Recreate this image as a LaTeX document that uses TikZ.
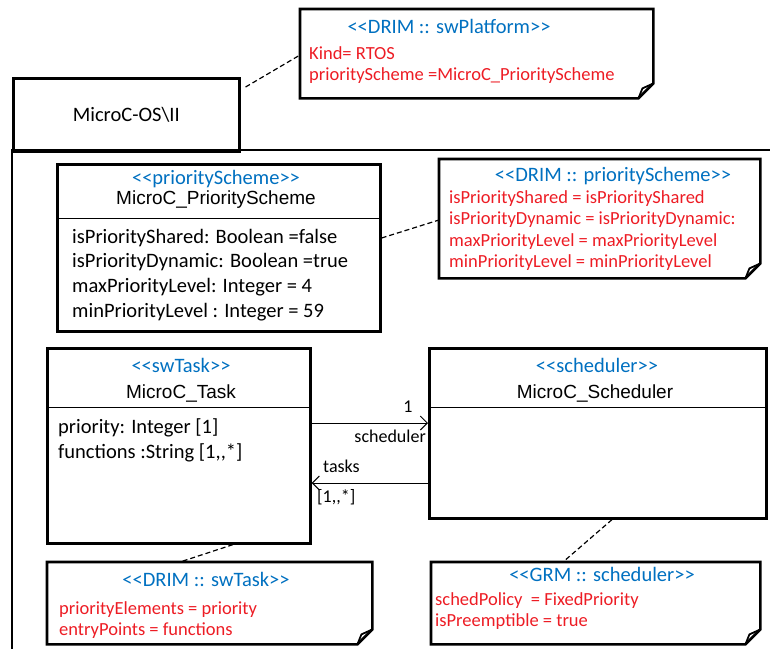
\documentclass[tikz,border=0pt]{standalone}
\usepackage{fontspec}
\newfontfamily\calfont{Carlito}
\newfontfamily\arialfont{Liberation Sans}
\usetikzlibrary{arrows.meta}
\definecolor{stereoblue}{RGB}{0,112,192}
\definecolor{tagred}{RGB}{237,28,36}
\tikzstyle{every node}=[inner sep=0pt,font=\calfont\fontsize{20.5}{24}\selectfont]
\tikzstyle{classbox}=[draw=black,line width=2.6pt,anchor=north west]
\tikzstyle{notebox}=[anchor=north west]
\tikzstyle{stereo}=[anchor=base,text=stereoblue]
\tikzstyle{cname}=[anchor=base,font=\arialfont\fontsize{19}{23}\selectfont]
\tikzstyle{attr}=[anchor=base west]
\tikzstyle{tag}=[anchor=base west,text=tagred,font=\calfont\fontsize{18.5}{22}\selectfont]
\tikzstyle{role}=[font=\calfont\fontsize{18}{22}\selectfont]
\tikzstyle{link}=[line width=1.2pt,dash pattern=on 5pt off 3pt]
\tikzstyle{assoc}=[line width=1pt,-{Straight Barb[length=7pt,width=14pt,line width=1pt]}]

\newcommand\notefold[1]{%
  \draw[line width=2.6pt,line join=miter] (#1.north west) -- (#1.north east)
    -- ([yshift=15pt]#1.south east) -- ([xshift=-15pt]#1.south east)
    -- (#1.south west) -- cycle;
  \draw[line width=1.8pt,line join=round] ([yshift=15pt]#1.south east)
    -- ([xshift=-11pt,yshift=10pt]#1.south east) -- ([xshift=-15pt]#1.south east);}

\begin{document}
\begin{tikzpicture}[x=1pt,y=-1pt]
  \useasboundingbox (0,0) rectangle (770,648);

  \node[classbox,minimum width=226,minimum height=73,text height=13pt,text depth=0pt]
    (pkg) at (12,77) {MicroC-OS\textbackslash II};
  \draw[line width=2.6pt] (12,652) |- (772,150);

  \node[notebox,minimum width=353,minimum height=89] (plat) at (300,9) {};
  \notefold{plat}
  \node[stereo] (plat-st) at (449,33) {<<DRIM :: swPlatform>>};
  \node[tag] (plat-1) at (309,59) {Kind= RTOS};
  \node[tag] (plat-2) at (309,80) {priorityScheme =MicroC\_PriorityScheme};

  \node[classbox,minimum width=323,minimum height=167] (ps) at (56,163) {};
  \draw[line width=1pt] ([yshift=-55pt]ps.north west) -- ([yshift=-55pt]ps.north east);
  \node[stereo] (ps-st) at (216,184) {<<priorityScheme>>};
  \node[cname] (ps-nm) at (216,204) {MicroC\_PriorityScheme};
  \foreach \t [count=\i] in {isPriorityShared: Boolean =false,
      isPriorityDynamic: Boolean =true,maxPriorityLevel: Integer = 4,
      minPriorityLevel : Integer = 59}
    \node[attr] (ps-a\i) at (72,218.3+24.7*\i) {\t};

  \node[notebox,minimum width=321,minimum height=119] (drimps) at (439,159) {};
  \notefold{drimps}
  \node[stereo] (drimps-st) at (613,181) {<<DRIM :: priorityScheme>>};
  \foreach \t [count=\i] in {isPriorityShared = isPriorityShared,
      isPriorityDynamic = isPriorityDynamic:,maxPriorityLevel = maxPriorityLevel,
      minPriorityLevel = minPriorityLevel}
    \node[tag] (drimps-\i) at (449,181.5+21.5*\i) {\t};

  \node[classbox,minimum width=263,minimum height=195] (task) at (46,347) {};
  \draw[line width=1pt] ([yshift=-60pt]task.north west) -- ([yshift=-60pt]task.north east);
  \node[stereo] (task-st) at (181,372) {<<swTask>>};
  \node[cname] (task-nm) at (181,398) {MicroC\_Task};
  \node[attr] (task-a1) at (58,433) {priority: Integer [1]};
  \node[attr] (task-a2) at (58,458) {functions :String [1,{},*]};

  \node[classbox,minimum width=337,minimum height=170] (sched) at (428,347) {};
  \draw[line width=1pt] ([yshift=-60pt]sched.north west) -- ([yshift=-60pt]sched.north east);
  \node[stereo] (sched-st) at (597,372) {<<scheduler>>};
  \node[cname] (sched-nm) at (595,398) {MicroC\_Scheduler};

  \draw[assoc] ([yshift=-76pt]task.north east) -- ([yshift=-76pt]sched.north west);
  \draw[assoc] ([yshift=-136pt]sched.north west) -- ([yshift=-136pt]task.north east);
  \node[role,anchor=base] (r1) at (408,412) {1};
  \node[role,anchor=base east] (r2) at (426,442) {scheduler};
  \node[role,anchor=base west] (r3) at (323,472) {tasks};
  \node[role,anchor=base west] (r4) at (317,502) {[1,{},*]};

  \node[notebox,minimum width=325,minimum height=82] (drimtask) at (47,562) {};
  \notefold{drimtask}
  \node[stereo] (drimtask-st) at (206,586) {<<DRIM :: swTask>>};
  \node[tag] (drimtask-1) at (59,614) {priorityElements = priority};
  \node[tag] (drimtask-2) at (59,635) {entryPoints = functions};

  \node[notebox,minimum width=329,minimum height=82] (grm) at (431,562) {};
  \notefold{grm}
  \node[stereo] (grm-st) at (602,581) {<<GRM :: scheduler>>};
  \node[tag] (grm-1) at (435,605) {schedPolicy~ = FixedPriority};
  \node[tag] (grm-2) at (435,626) {isPreemptible = true};

  \draw[link] ([xshift=5pt,yshift=-10pt]pkg.north east) -- ([yshift=-46pt]plat.north west);
  \draw[link] ([yshift=-75pt]ps.north east) -- ([yshift=-61pt]drimps.north west);
  \draw[link] ([xshift=187pt]task.south west) -- ([xshift=133pt]drimtask.north west);
  \draw[link] ([xshift=184pt]sched.south west) -- ([xshift=132pt]grm.north west);
\end{tikzpicture}
\end{document}
